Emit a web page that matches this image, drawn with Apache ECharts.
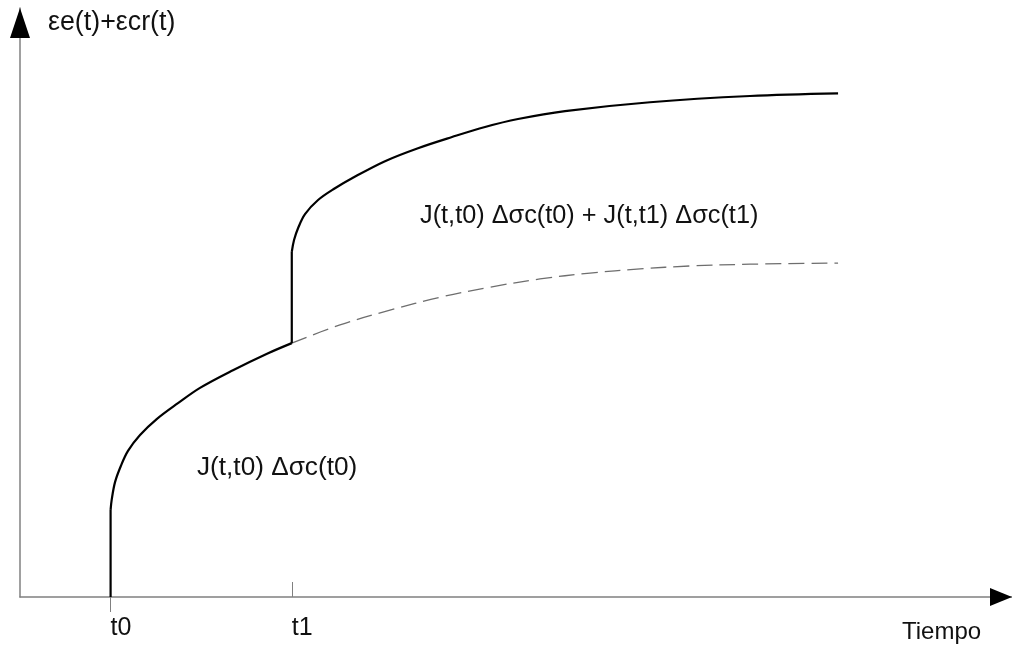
<!DOCTYPE html>
<html>
<head>
<meta charset="utf-8">
<script src="https://cdn.jsdelivr.net/npm/echarts@6/dist/echarts.min.js"></script>
<style>
  html, body { margin: 0; padding: 0; background: #ffffff; }
  #chart { width: 1012px; height: 648px; }
</style>
</head>
<body>
<div id="chart"></div>
<script>
// Creep strain under two stress increments applied at t0 and t1
const xMax = 109.5;
const yMax = 100;

const tickValues = [10, 30];
const tickLabels = ['t0', 't1'];

const axisTitleY = 'εe(t)+εcr(t)';
const axisTitleX = 'Tiempo';
const labelFirst = 'J(t,t0) Δσc(t0)';
const labelBoth = 'J(t,t0) Δσc(t0) + J(t,t1) Δσc(t1)';

// instantaneous elastic response at t0
const jumpT0 = [[10, 0], [10, 14.8]];
// creep after the first increment, up to t1
const creepT0 = [
  [10, 14.8], [10.12, 16.5], [10.49, 19.5], [11.12, 22.2], [11.92, 24.8],
  [13.25, 27.5], [15.09, 30.2], [17.44, 32.9], [19.87, 35.5], [23.51, 38.5],
  [27.27, 41.3], [30, 43.1]
];
// first-increment response continued past t1
const creepT0Later = [
  [30, 43.1], [35.32, 46.2], [40.84, 48.7], [46.36, 50.9], [51.88, 52.6],
  [57.40, 54.0], [62.92, 55.0], [68.44, 55.7], [73.96, 56.2], [80.58, 56.5],
  [90.30, 56.7]
];
// instantaneous elastic response at t1
const jumpT1 = [[30, 43.1], [30, 58.6]];
// combined creep after the second increment
const creepBoth = [
  [30, 58.6], [30.25, 60.6], [30.69, 62.6], [31.46, 65.0], [32.90, 67.4],
  [34.77, 69.4], [36.65, 71.1], [40.29, 74.0], [43.93, 76.2], [47.69, 78.1],
  [51.33, 79.8], [54.97, 81.15], [60.16, 82.5], [69.54, 84.0], [80.58, 85.06],
  [90.30, 85.5]
];

const FONT = "'Liberation Sans', Arial, Helvetica, sans-serif";
const TEXT = '#111111';
const AXIS = '#808080';

const chart = echarts.init(document.getElementById('chart'), null, { renderer: 'canvas' });

const solid = (data, smooth) => ({
  type: 'line', data, smooth, symbol: 'none', silent: true,
  lineStyle: { color: '#000000', width: 2.2 }, z: 5
});

chart.setOption({
  animation: false,
  backgroundColor: '#ffffff',
  grid: { left: 20, right: 0, top: 8, bottom: 51, containLabel: false },
  xAxis: [
    {
      type: 'value', min: 0, max: xMax, position: 'bottom',
      axisLine: { show: true, lineStyle: { color: AXIS, width: 1.5 } },
      axisTick: { show: true, customValues: [tickValues[0]], length: 15, inside: false,
        lineStyle: { color: AXIS, width: 1 } },
      axisLabel: {
        customValues: [tickValues[0]],
        formatter: v => tickLabels[tickValues.indexOf(v)],
        align: 'left', verticalAlign: 'middle', margin: 31,
        fontFamily: FONT, fontSize: 25, color: TEXT
      },
      splitLine: { show: false }
    },
    {
      type: 'value', min: 0, max: xMax, position: 'bottom', offset: 0,
      axisLine: { show: false },
      axisTick: { show: true, customValues: [tickValues[1]], length: 15, inside: true,
        lineStyle: { color: AXIS, width: 1 } },
      axisLabel: {
        customValues: [tickValues[1]],
        formatter: v => tickLabels[tickValues.indexOf(v)],
        align: 'left', verticalAlign: 'middle', margin: 31, inside: false,
        fontFamily: FONT, fontSize: 25, color: TEXT
      },
      splitLine: { show: false }
    }
  ],
  yAxis: {
    type: 'value', min: 0, max: yMax,
    axisLine: { show: true, lineStyle: { color: AXIS, width: 1.5 } },
    axisTick: { show: false },
    axisLabel: { show: false },
    splitLine: { show: false }
  },
  series: [
    solid(jumpT0, false),
    solid(creepT0, 0.35),
    {
      type: 'line', data: creepT0Later, smooth: 0.35,
      symbol: 'none', silent: true,
      lineStyle: { color: '#6e6e6e', width: 1.3, type: [16, 7] }, z: 4
    },
    solid(jumpT1, false),
    solid(creepBoth, 0.35),
    // axis arrowheads
    {
      type: 'scatter', silent: true, clip: false, z: 10,
      data: [[0, yMax]], symbol: 'triangle', symbolSize: [20, 30], symbolOffset: [0, 15],
      itemStyle: { color: '#000000', opacity: 1 }
    },
    {
      type: 'scatter', silent: true, clip: false, z: 10,
      data: [[xMax, 0]], symbol: 'triangle', symbolSize: [18, 22], symbolRotate: -90,
      symbolOffset: [-11, 0],
      itemStyle: { color: '#000000', opacity: 1 }
    }
  ],
  graphic: [
    { type: 'text', silent: true,
      style: { text: axisTitleY, x: 48, y: 23, verticalAlign: 'middle', align: 'left',
        font: '26.8px ' + FONT, fill: TEXT } },
    { type: 'text', silent: true,
      style: { text: axisTitleX, x: 902, y: 632, verticalAlign: 'middle', align: 'left',
        font: '24px ' + FONT, fill: TEXT } },
    { type: 'text', silent: true,
      style: { text: labelFirst, x: 197, y: 468, verticalAlign: 'middle', align: 'left',
        font: '26.2px ' + FONT, fill: TEXT } },
    { type: 'text', silent: true,
      style: { text: labelBoth, x: 420, y: 216, verticalAlign: 'middle', align: 'left',
        font: '25.3px ' + FONT, fill: TEXT } }
  ]
});
</script>
</body>
</html>
